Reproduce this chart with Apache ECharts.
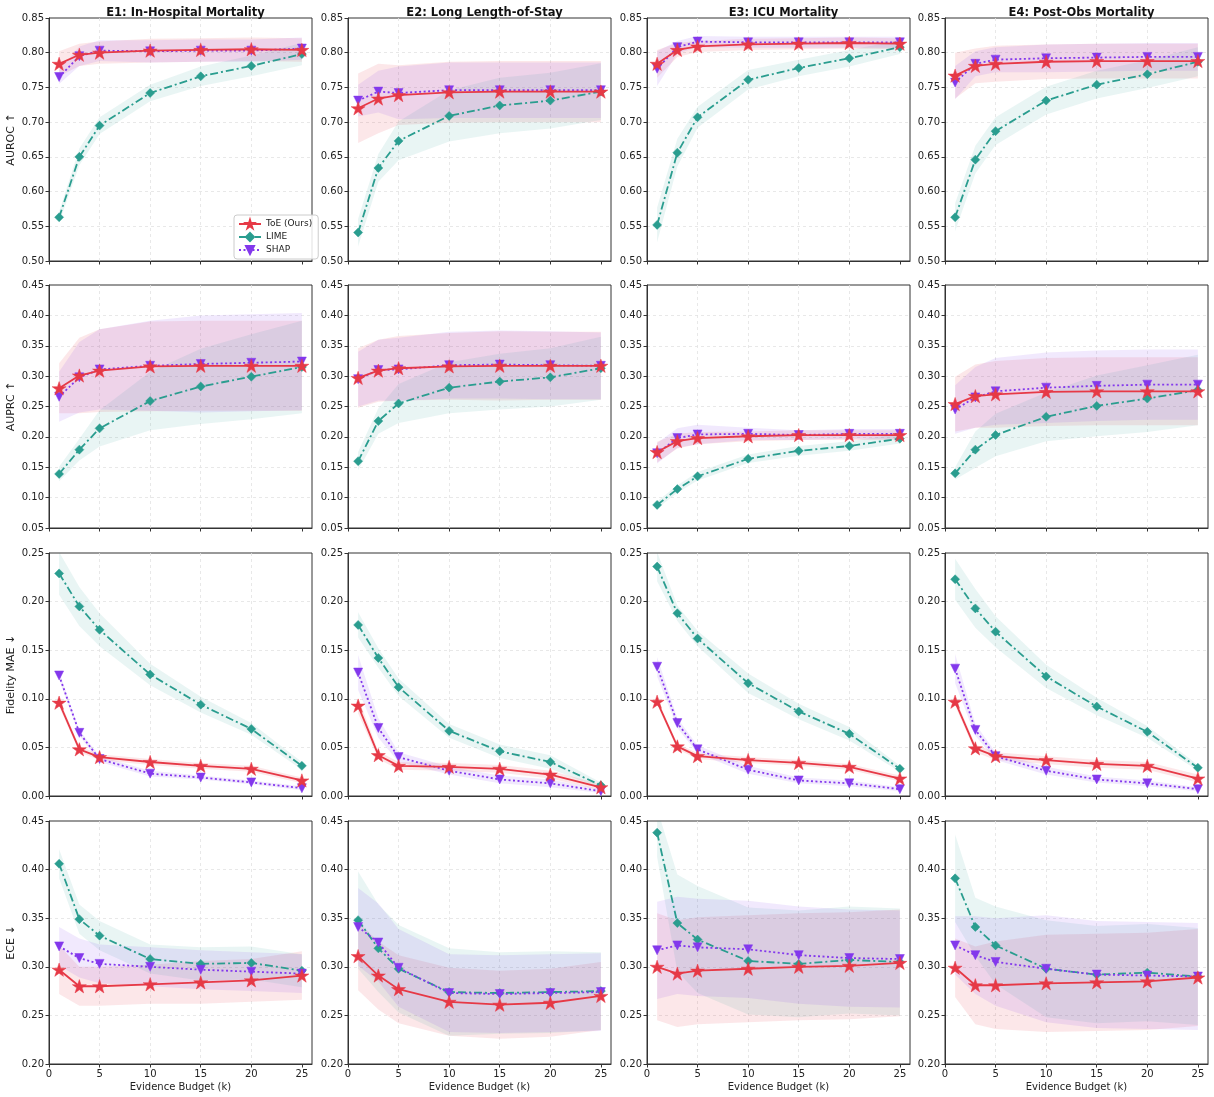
<!DOCTYPE html>
<html>
<head>
<meta charset="utf-8">
<script src="https://cdn.jsdelivr.net/npm/echarts@6/dist/echarts.min.js"></script>
<style>html,body{margin:0;padding:0;background:#fff;}#chart{width:1214px;height:1097px;}</style>
</head>
<body>
<div id="chart"></div>
<script>
// ---------------- data ----------------
const budgets = [1, 3, 5, 10, 15, 20, 25];
const xTicks = [0, 5, 10, 15, 20, 25];
const tasks = ['E1: In-Hospital Mortality', 'E2: Long Length-of-Stay', 'E3: ICU Mortality', 'E4: Post-Obs Mortality'];
const metrics = ['AUROC ↑', 'AUPRC ↑', 'Fidelity MAE ↓', 'ECE ↓'];
const methods = ['ToE (Ours)', 'LIME', 'SHAP'];

// AUROC
const e1_auroc_toe = [0.784, 0.797, 0.800, 0.803, 0.804, 0.805, 0.804];
const e1_auroc_toe_sd = [0.018, 0.016, 0.016, 0.017, 0.017, 0.017, 0.017];
const e1_auroc_lime = [0.563, 0.650, 0.695, 0.742, 0.766, 0.781, 0.798];
const e1_auroc_lime_sd = [0.008, 0.012, 0.012, 0.012, 0.014, 0.015, 0.016];
const e1_auroc_shap = [0.765, 0.795, 0.803, 0.802, 0.803, 0.803, 0.806];
const e1_auroc_shap_sd = [0.010, 0.014, 0.015, 0.016, 0.016, 0.016, 0.016];

const e2_auroc_toe = [0.720, 0.734, 0.739, 0.743, 0.744, 0.744, 0.744];
const e2_auroc_toe_sd = [0.050, 0.050, 0.043, 0.044, 0.044, 0.044, 0.044];
const e2_auroc_lime = [0.541, 0.634, 0.673, 0.709, 0.724, 0.731, 0.744];
const e2_auroc_lime_sd = [0.020, 0.020, 0.028, 0.037, 0.040, 0.040, 0.041];
const e2_auroc_shap = [0.731, 0.744, 0.742, 0.746, 0.746, 0.746, 0.746];
const e2_auroc_shap_sd = [0.023, 0.030, 0.038, 0.040, 0.040, 0.040, 0.040];

const e3_auroc_toe = [0.784, 0.804, 0.809, 0.812, 0.813, 0.814, 0.813];
const e3_auroc_toe_sd = [0.020, 0.010, 0.008, 0.008, 0.008, 0.008, 0.008];
const e3_auroc_lime = [0.552, 0.656, 0.707, 0.761, 0.778, 0.792, 0.808];
const e3_auroc_lime_sd = [0.025, 0.020, 0.015, 0.014, 0.012, 0.012, 0.010];
const e3_auroc_shap = [0.777, 0.808, 0.816, 0.815, 0.815, 0.815, 0.815];
const e3_auroc_shap_sd = [0.025, 0.009, 0.008, 0.008, 0.008, 0.008, 0.008];

const e4_auroc_toe = [0.767, 0.781, 0.784, 0.787, 0.788, 0.788, 0.788];
const e4_auroc_toe_sd = [0.033, 0.025, 0.026, 0.025, 0.025, 0.025, 0.025];
const e4_auroc_lime = [0.563, 0.646, 0.687, 0.731, 0.754, 0.769, 0.787];
const e4_auroc_lime_sd = [0.020, 0.020, 0.020, 0.020, 0.020, 0.020, 0.021];
const e4_auroc_shap = [0.757, 0.784, 0.790, 0.792, 0.793, 0.794, 0.794];
const e4_auroc_shap_sd = [0.024, 0.018, 0.018, 0.020, 0.020, 0.020, 0.020];

// AUPRC
const e1_auprc_toe = [0.280, 0.301, 0.309, 0.316, 0.317, 0.317, 0.317];
const e1_auprc_toe_sd = [0.041, 0.062, 0.068, 0.074, 0.074, 0.074, 0.074];
const e1_auprc_lime = [0.139, 0.179, 0.214, 0.259, 0.283, 0.299, 0.315];
const e1_auprc_lime_sd = [0.012, 0.018, 0.030, 0.048, 0.062, 0.070, 0.076];
const e1_auprc_shap = [0.266, 0.298, 0.311, 0.317, 0.320, 0.322, 0.324];
const e1_auprc_shap_sd = [0.041, 0.058, 0.066, 0.074, 0.080, 0.080, 0.080];

const e2_auprc_toe = [0.297, 0.309, 0.313, 0.316, 0.317, 0.317, 0.317];
const e2_auprc_toe_sd = [0.049, 0.051, 0.053, 0.055, 0.057, 0.056, 0.056];
const e2_auprc_lime = [0.160, 0.226, 0.255, 0.281, 0.291, 0.298, 0.313];
const e2_auprc_lime_sd = [0.015, 0.021, 0.032, 0.042, 0.046, 0.048, 0.052];
const e2_auprc_shap = [0.295, 0.310, 0.311, 0.318, 0.319, 0.318, 0.317];
const e2_auprc_shap_sd = [0.045, 0.050, 0.052, 0.055, 0.056, 0.056, 0.055];

const e3_auprc_toe = [0.175, 0.193, 0.198, 0.201, 0.203, 0.203, 0.203];
const e3_auprc_toe_sd = [0.017, 0.012, 0.010, 0.008, 0.008, 0.008, 0.008];
const e3_auprc_lime = [0.088, 0.114, 0.135, 0.164, 0.177, 0.185, 0.197];
const e3_auprc_lime_sd = [0.006, 0.006, 0.007, 0.007, 0.008, 0.008, 0.008];
const e3_auprc_shap = [0.173, 0.198, 0.204, 0.205, 0.203, 0.205, 0.205];
const e3_auprc_shap_sd = [0.017, 0.016, 0.016, 0.010, 0.008, 0.008, 0.008];

const e4_auprc_toe = [0.254, 0.267, 0.270, 0.274, 0.275, 0.275, 0.275];
const e4_auprc_toe_sd = [0.045, 0.052, 0.055, 0.056, 0.056, 0.056, 0.056];
const e4_auprc_lime = [0.140, 0.179, 0.203, 0.233, 0.251, 0.263, 0.277];
const e4_auprc_lime_sd = [0.010, 0.030, 0.035, 0.040, 0.050, 0.055, 0.058];
const e4_auprc_shap = [0.245, 0.265, 0.275, 0.281, 0.284, 0.286, 0.286];
const e4_auprc_shap_sd = [0.040, 0.050, 0.055, 0.058, 0.058, 0.058, 0.058];

// Fidelity MAE
const e1_mae_toe = [0.096, 0.048, 0.040, 0.035, 0.031, 0.028, 0.016];
const e1_mae_toe_sd = [0.004, 0.003, 0.003, 0.003, 0.003, 0.003, 0.003];
const e1_mae_lime = [0.229, 0.195, 0.171, 0.125, 0.094, 0.069, 0.031];
const e1_mae_lime_sd = [0.022, 0.020, 0.017, 0.011, 0.008, 0.006, 0.004];
const e1_mae_shap = [0.124, 0.065, 0.038, 0.023, 0.019, 0.014, 0.008];
const e1_mae_shap_sd = [0.004, 0.003, 0.003, 0.003, 0.002, 0.002, 0.002];

const e2_mae_toe = [0.093, 0.042, 0.031, 0.030, 0.028, 0.022, 0.009];
const e2_mae_toe_sd = [0.008, 0.004, 0.004, 0.004, 0.004, 0.004, 0.003];
const e2_mae_lime = [0.176, 0.142, 0.112, 0.067, 0.046, 0.035, 0.011];
const e2_mae_lime_sd = [0.013, 0.010, 0.009, 0.007, 0.007, 0.007, 0.003];
const e2_mae_shap = [0.127, 0.070, 0.040, 0.026, 0.017, 0.013, 0.005];
const e2_mae_shap_sd = [0.018, 0.010, 0.005, 0.004, 0.004, 0.004, 0.002];

const e3_mae_toe = [0.097, 0.051, 0.041, 0.037, 0.034, 0.030, 0.018];
const e3_mae_toe_sd = [0.003, 0.003, 0.003, 0.003, 0.003, 0.003, 0.003];
const e3_mae_lime = [0.236, 0.188, 0.162, 0.116, 0.087, 0.064, 0.028];
const e3_mae_lime_sd = [0.015, 0.008, 0.008, 0.010, 0.008, 0.007, 0.003];
const e3_mae_shap = [0.133, 0.075, 0.048, 0.027, 0.016, 0.013, 0.007];
const e3_mae_shap_sd = [0.010, 0.005, 0.004, 0.004, 0.003, 0.003, 0.002];

const e4_mae_toe = [0.097, 0.049, 0.041, 0.037, 0.033, 0.031, 0.018];
const e4_mae_toe_sd = [0.004, 0.004, 0.004, 0.004, 0.004, 0.004, 0.004];
const e4_mae_lime = [0.223, 0.193, 0.169, 0.123, 0.092, 0.066, 0.029];
const e4_mae_lime_sd = [0.021, 0.020, 0.016, 0.012, 0.009, 0.006, 0.003];
const e4_mae_shap = [0.131, 0.068, 0.041, 0.026, 0.017, 0.013, 0.007];
const e4_mae_shap_sd = [0.015, 0.006, 0.004, 0.004, 0.003, 0.003, 0.002];

// ECE
const e1_ece_toe = [0.297, 0.280, 0.280, 0.282, 0.284, 0.286, 0.291];
const e1_ece_toe_sd = [0.025, 0.020, 0.020, 0.020, 0.022, 0.022, 0.025];
const e1_ece_lime = [0.406, 0.349, 0.332, 0.308, 0.303, 0.304, 0.296];
const e1_ece_lime_sd = [0.015, 0.015, 0.015, 0.015, 0.017, 0.017, 0.017];
const e1_ece_shap = [0.321, 0.309, 0.303, 0.300, 0.297, 0.295, 0.293];
const e1_ece_shap_sd = [0.020, 0.020, 0.020, 0.020, 0.020, 0.020, 0.020];

const e2_ece_toe = [0.311, 0.291, 0.277, 0.264, 0.261, 0.263, 0.270];
const e2_ece_toe_sd = [0.035, 0.035, 0.035, 0.035, 0.035, 0.035, 0.035];
const e2_ece_lime = [0.348, 0.319, 0.298, 0.274, 0.273, 0.274, 0.275];
const e2_ece_lime_sd = [0.050, 0.045, 0.045, 0.045, 0.042, 0.042, 0.040];
const e2_ece_shap = [0.341, 0.325, 0.299, 0.273, 0.272, 0.273, 0.274];
const e2_ece_shap_sd = [0.040, 0.040, 0.040, 0.040, 0.040, 0.040, 0.040];

const e3_ece_toe = [0.300, 0.293, 0.296, 0.298, 0.300, 0.301, 0.304];
const e3_ece_toe_sd = [0.055, 0.055, 0.055, 0.055, 0.055, 0.055, 0.055];
const e3_ece_lime = [0.438, 0.345, 0.328, 0.306, 0.303, 0.307, 0.305];
const e3_ece_lime_sd = [0.025, 0.050, 0.055, 0.055, 0.055, 0.055, 0.055];
const e3_ece_shap = [0.317, 0.322, 0.320, 0.318, 0.312, 0.309, 0.308];
const e3_ece_shap_sd = [0.050, 0.050, 0.050, 0.050, 0.050, 0.050, 0.050];

const e4_ece_toe = [0.299, 0.281, 0.281, 0.283, 0.284, 0.285, 0.289];
const e4_ece_toe_sd = [0.030, 0.040, 0.045, 0.050, 0.050, 0.050, 0.050];
const e4_ece_lime = [0.391, 0.341, 0.322, 0.298, 0.292, 0.294, 0.290];
const e4_ece_lime_sd = [0.045, 0.030, 0.040, 0.050, 0.050, 0.050, 0.050];
const e4_ece_shap = [0.322, 0.312, 0.305, 0.298, 0.292, 0.291, 0.290];
const e4_ece_shap_sd = [0.030, 0.040, 0.045, 0.055, 0.055, 0.055, 0.055];

const yMinByRow = [0.50, 0.05, 0.00, 0.20];
const yMaxByRow = [0.85, 0.45, 0.25, 0.45];

// table of [mean, sd] per row(metric) -> col(task) -> method (ToE, LIME, SHAP)
const table = [
  [[[e1_auroc_toe, e1_auroc_toe_sd], [e1_auroc_lime, e1_auroc_lime_sd], [e1_auroc_shap, e1_auroc_shap_sd]],
   [[e2_auroc_toe, e2_auroc_toe_sd], [e2_auroc_lime, e2_auroc_lime_sd], [e2_auroc_shap, e2_auroc_shap_sd]],
   [[e3_auroc_toe, e3_auroc_toe_sd], [e3_auroc_lime, e3_auroc_lime_sd], [e3_auroc_shap, e3_auroc_shap_sd]],
   [[e4_auroc_toe, e4_auroc_toe_sd], [e4_auroc_lime, e4_auroc_lime_sd], [e4_auroc_shap, e4_auroc_shap_sd]]],
  [[[e1_auprc_toe, e1_auprc_toe_sd], [e1_auprc_lime, e1_auprc_lime_sd], [e1_auprc_shap, e1_auprc_shap_sd]],
   [[e2_auprc_toe, e2_auprc_toe_sd], [e2_auprc_lime, e2_auprc_lime_sd], [e2_auprc_shap, e2_auprc_shap_sd]],
   [[e3_auprc_toe, e3_auprc_toe_sd], [e3_auprc_lime, e3_auprc_lime_sd], [e3_auprc_shap, e3_auprc_shap_sd]],
   [[e4_auprc_toe, e4_auprc_toe_sd], [e4_auprc_lime, e4_auprc_lime_sd], [e4_auprc_shap, e4_auprc_shap_sd]]],
  [[[e1_mae_toe, e1_mae_toe_sd], [e1_mae_lime, e1_mae_lime_sd], [e1_mae_shap, e1_mae_shap_sd]],
   [[e2_mae_toe, e2_mae_toe_sd], [e2_mae_lime, e2_mae_lime_sd], [e2_mae_shap, e2_mae_shap_sd]],
   [[e3_mae_toe, e3_mae_toe_sd], [e3_mae_lime, e3_mae_lime_sd], [e3_mae_shap, e3_mae_shap_sd]],
   [[e4_mae_toe, e4_mae_toe_sd], [e4_mae_lime, e4_mae_lime_sd], [e4_mae_shap, e4_mae_shap_sd]]],
  [[[e1_ece_toe, e1_ece_toe_sd], [e1_ece_lime, e1_ece_lime_sd], [e1_ece_shap, e1_ece_shap_sd]],
   [[e2_ece_toe, e2_ece_toe_sd], [e2_ece_lime, e2_ece_lime_sd], [e2_ece_shap, e2_ece_shap_sd]],
   [[e3_ece_toe, e3_ece_toe_sd], [e3_ece_lime, e3_ece_lime_sd], [e3_ece_shap, e3_ece_shap_sd]],
   [[e4_ece_toe, e4_ece_toe_sd], [e4_ece_lime, e4_ece_lime_sd], [e4_ece_shap, e4_ece_shap_sd]]]
];

// ---------------- styles ----------------
const FONT = 'DejaVu Sans';
const STAR = 'path://M0,-10L2.245,-3.09L9.511,-3.09L3.633,1.18L5.878,8.09L0,3.82L-5.878,8.09L-3.633,1.18L-9.511,-3.09L-2.245,-3.09Z';
const styleOf = [
  { color: '#E63946', band: 'rgba(230,57,70,0.12)', symbol: STAR, size: 14, rotate: 0, type: 'solid', z: 5 },
  { color: '#2A9D8F', band: 'rgba(42,157,143,0.10)', symbol: 'diamond', size: 9, rotate: 0, type: [8, 3, 2, 3], z: 3 },
  { color: '#8338EC', band: 'rgba(131,56,236,0.11)', symbol: 'triangle', size: 9, rotate: 180, type: [2, 2.5], z: 4 }
];
const COL_LEFT = [49, 348, 647, 945];
const ROW_TOP = [18, 285, 553, 821];
const W = 263, H = 243;

// band polygon drawn through the axes' own scales (api.coord)
function bandRenderer(fill) {
  return function (params, api) {
    const n = budgets.length;
    const upper = [], lower = [];
    for (let i = 0; i < n; i++) {
      const x = api.value(3 * i);
      lower.push(api.coord([x, api.value(3 * i + 1)]));
      upper.push(api.coord([x, api.value(3 * i + 2)]));
    }
    const pts = upper.concat(lower.reverse());
    const cs = params.coordSys;
    return {
      type: 'group',
      clipPath: { type: 'rect', shape: { x: cs.x, y: cs.y, width: cs.width, height: cs.height } },
      children: [{ type: 'polygon', shape: { points: pts }, style: { fill: fill, stroke: null }, silent: true }]
    };
  };
}

const gridLine = { show: true, showMinLine: false, showMaxLine: false,
  lineStyle: { color: '#e2e2e2', type: [3, 3], width: 0.8 } };

const grids = [], xAxes = [], yAxes = [], series = [], titles = [];
for (let r = 0; r < 4; r++) {
  for (let c = 0; c < 4; c++) {
    const gi = r * 4 + c;
    grids.push({ left: COL_LEFT[c], top: ROW_TOP[r], width: W, height: H, show: true,
      borderColor: '#333', borderWidth: 1, backgroundColor: 'transparent' });
    xAxes.push({
      type: 'value', gridIndex: gi, min: 0, max: 26, interval: 5,
      axisLine: { show: true, lineStyle: { color: '#333', width: 1 } },
      axisTick: { show: true, length: 3.5, lineStyle: { color: '#333' }, customValues: xTicks },
      axisLabel: { show: r === 3, customValues: xTicks, fontSize: 10, color: '#222', fontFamily: FONT, margin: 5,
        formatter: v => (v > 25.5 ? '' : String(v)) },
      splitLine: gridLine,
      name: r === 3 ? 'Evidence Budget (k)' : '', nameLocation: 'middle', nameGap: 18,
      nameTextStyle: { fontSize: 10, color: '#222', fontFamily: FONT }
    });
    yAxes.push({
      type: 'value', gridIndex: gi, min: yMinByRow[r], max: yMaxByRow[r], interval: 0.05,
      axisLine: { show: true, lineStyle: { color: '#333', width: 1 } },
      axisTick: { show: true, length: 3.5, lineStyle: { color: '#333' } },
      axisLabel: { fontSize: 10, color: '#222', fontFamily: FONT, margin: 5, formatter: v => v.toFixed(2) },
      splitLine: gridLine,
      name: c === 0 ? metrics[r] : '', nameLocation: 'middle', nameGap: 32, nameRotate: 90,
      nameTextStyle: { fontSize: 11, color: '#222', fontFamily: FONT }
    });
    // bands (behind lines): ToE, LIME, SHAP
    for (let m = 0; m < 3; m++) {
      const [mean, sd] = table[r][c][m];
      const row = [];
      budgets.forEach((k, i) => { row.push(k, mean[i] - sd[i], mean[i] + sd[i]); });
      series.push({
        type: 'custom', name: 'band_' + gi + '_' + m, xAxisIndex: gi, yAxisIndex: gi,
        data: [row], encode: { x: [0], y: [1, 2] },
        renderItem: bandRenderer(styleOf[m].band), silent: true, z: 1
      });
    }
    // lines: LIME, SHAP, then ToE on top
    [1, 2, 0].forEach(m => {
      const [mean] = table[r][c][m];
      const st = styleOf[m];
      series.push({
        type: 'line', name: methods[m], xAxisIndex: gi, yAxisIndex: gi,
        data: budgets.map((k, i) => [k, mean[i]]),
        symbol: st.symbol, symbolSize: st.size, symbolRotate: st.rotate, symbolKeepAspect: true,
        showAllSymbol: true,
        lineStyle: { color: st.color, width: 1.8, type: st.type },
        itemStyle: { color: st.color, borderColor: st.color, borderWidth: 0.5 },
        z: st.z
      });
    });
  }
}
for (let c = 0; c < 4; c++) {
  titles.push({ text: tasks[c], left: COL_LEFT[c] + W / 2, top: 2, textAlign: 'center',
    textStyle: { fontSize: 11.5, fontWeight: 'bold', color: '#111', fontFamily: FONT } });
}

const chart = echarts.init(document.getElementById('chart'), null, { renderer: 'canvas' });
chart.setOption({
  animation: false,
  backgroundColor: '#fff',
  textStyle: { fontFamily: FONT },
  title: titles,
  grid: grids,
  xAxis: xAxes,
  yAxis: yAxes,
  legend: {
    data: methods, orient: 'vertical', left: 234, top: 215,
    itemWidth: 22, itemHeight: 10, itemGap: 3,
    textStyle: { fontSize: 9, color: '#222', fontFamily: FONT },
    backgroundColor: 'rgba(255,255,255,0.85)', borderColor: '#ccc', borderWidth: 1, borderRadius: 3,
    padding: [4, 6, 4, 4]
  },
  series: series
});
</script>
</body>
</html>
